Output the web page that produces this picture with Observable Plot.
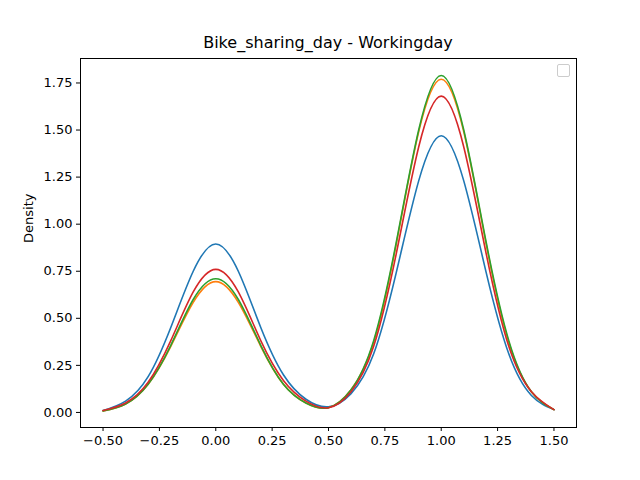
<!DOCTYPE html>
<html>
<head>
<meta charset="UTF-8">
<style>
  body { margin: 0; background: white; font-family: "DejaVu Sans", sans-serif; }
  #wrap { position: relative; width: 640px; height: 480px; }
  #title { position: absolute; top: 33px; left: 80px; width: 496px; text-align: center; font-size: 16px; color: #000; }
  #legend { position: absolute; top: 64px; left: 557px; width: 11px; height: 11px; border: 1px solid #ccc; border-radius: 2px; }
</style>
</head>
<body>
<div id="wrap">
  <div id="chart"></div>
  <div id="title">Bike_sharing_day - Workingday</div>
  <div id="legend"></div>
</div>
<script src="https://cdn.jsdelivr.net/npm/d3@7"></script>
<script src="https://cdn.jsdelivr.net/npm/@observablehq/plot@0.6"></script>
<script>
// values at x = -0.5, -0.4, ..., 1.5
const xs = [-0.5,-0.4,-0.3,-0.2,-0.1,0,0.1,0.2,0.3,0.4,0.5,0.6,0.7,0.8,0.9,1.0,1.1,1.2,1.3,1.4,1.5];
const blue   = [.01,.06,.19,.45,.75,.895,.75,.45,.20,.07,.03,.10,.31,.74,1.23,1.47,1.23,.74,.31,.09,.015];
const orange = [.008,.045,.15,.35,.585,.695,.585,.35,.15,.05,.025,.12,.37,.89,1.49,1.77,1.49,.89,.37,.11,.015];
const green  = [.008,.045,.15,.355,.6,.71,.6,.355,.15,.05,.025,.12,.38,.90,1.50,1.79,1.50,.90,.38,.11,.015];
const red    = [.01,.05,.16,.38,.64,.76,.64,.38,.17,.06,.025,.11,.35,.84,1.41,1.68,1.41,.84,.35,.11,.015];
const series = [
  {values: blue, color: "#1f77b4"},
  {values: orange, color: "#ff7f0e"},
  {values: green, color: "#2ca02c"},
  {values: red, color: "#d62728"}
];
const xTicks = [-0.5,-0.25,0,0.25,0.5,0.75,1,1.25,1.5];
const yTicks = [0,0.25,0.5,0.75,1,1.25,1.5,1.75];

const plot = Plot.plot({
  width: 640, height: 480,
  marginLeft: 80, marginRight: 64, marginTop: 58, marginBottom: 53,
  style: {fontFamily: "DejaVu Sans, sans-serif", fontSize: "13px", color: "#000"},
  x: {domain: [-0.6, 1.6], ticks: xTicks, tickFormat: d3.format(".2f"), label: null},
  y: {domain: [-0.08, 1.88], ticks: yTicks, tickFormat: d3.format(".2f"), label: null},
  marks: [
    Plot.axisX({ticks: xTicks, tickFormat: d3.format(".2f"), tickSize: 4, tickPadding: 4, label: null}),
    Plot.axisY({ticks: yTicks, tickFormat: d3.format(".2f"), tickSize: 4, tickPadding: 4, label: null}),
    ...series.map(s => Plot.line(xs.map((x, i) => ({x, y: s.values[i]})), {x: "x", y: "y", stroke: s.color, strokeWidth: 1.6, curve: "natural"})),
    Plot.frame({stroke: "#000", strokeWidth: 1}),
    Plot.text(["Density"], {frameAnchor: "left", dx: -52, rotate: -90, fontSize: 13})
  ]
});
document.getElementById("chart").append(plot);
</script>
</body>
</html>
